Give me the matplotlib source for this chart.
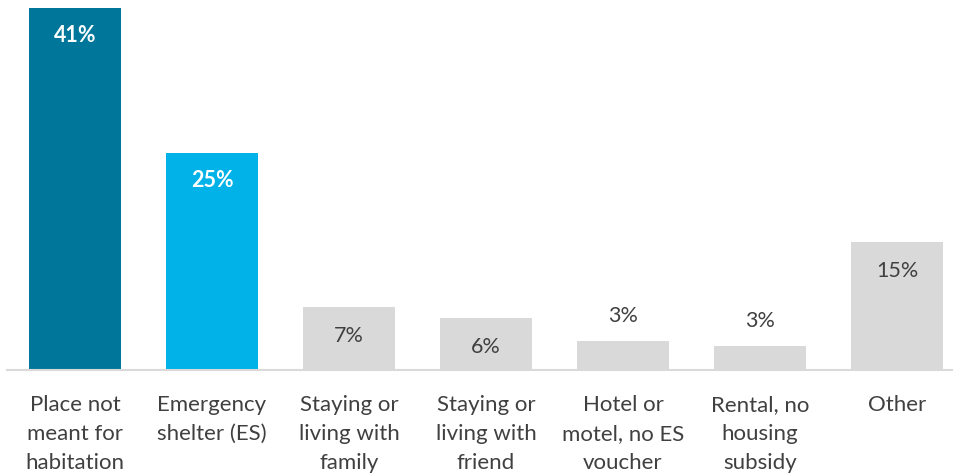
import numpy as np
import matplotlib.pyplot as plt

# data
categories = ["Place not\nmeant for\nhabitation", "Emergency\nshelter (ES)",
              "Staying or\nliving with\nfamily", "Staying or\nliving with\nfriend",
              "Hotel or\nmotel, no ES\nvoucher", "Rental, no\nhousing\nsubsidy", "Other"]
values = [41, 24.6, 7.1, 5.9, 3.3, 2.7, 14.5]
labels = ["41%", "25%", "7%", "6%", "3%", "3%", "15%"]
colors = ["#00779A", "#00B2E8", "#D9D9D9", "#D9D9D9", "#D9D9D9", "#D9D9D9", "#D9D9D9"]

plt.rcParams['font.family'] = ['Lato', 'DejaVu Sans']

fig = plt.figure(figsize=(9.54, 4.74), dpi=100)
ax = fig.add_axes([6.5 / 954, 104 / 474, 1 - 6.5 / 954, 370 / 474])

x = np.arange(len(values))
ax.bar(x, values, width=0.67, color=colors, zorder=2)
ax.set_xlim(-0.5, (954 - 75) / 137)
ax.set_ylim(0, 41 * 370 / 362)

# value labels
for i, (v, lab) in enumerate(zip(values, labels)):
    if i < 2:
        ax.annotate(lab, (i, v), xytext=(0, -28 * 0.72), textcoords='offset points',
                    ha='center', va='center', color='white', fontsize=15.5, fontweight='bold')
    elif v < 5:
        ax.annotate(lab, (i, v), xytext=(0, 25 * 0.72), textcoords='offset points',
                    ha='center', va='center', color='#404040', fontsize=15.5)
    else:
        ax.annotate(lab, (i, v), xytext=(0, -29 * 0.72), textcoords='offset points',
                    ha='center', va='center', color='#404040', fontsize=15.5)

ax.set_xticks(x)
ax.set_xticklabels(categories, fontsize=16, color='#404040', linespacing=1.55)
ax.tick_params(axis='x', length=0, pad=18)
ax.set_yticks([])
for s in ['top', 'right', 'left']:
    ax.spines[s].set_visible(False)
ax.spines['bottom'].set_color('#D9D9D9')
ax.spines['bottom'].set_linewidth(1.5)

plt.savefig("out.png", dpi=100)
